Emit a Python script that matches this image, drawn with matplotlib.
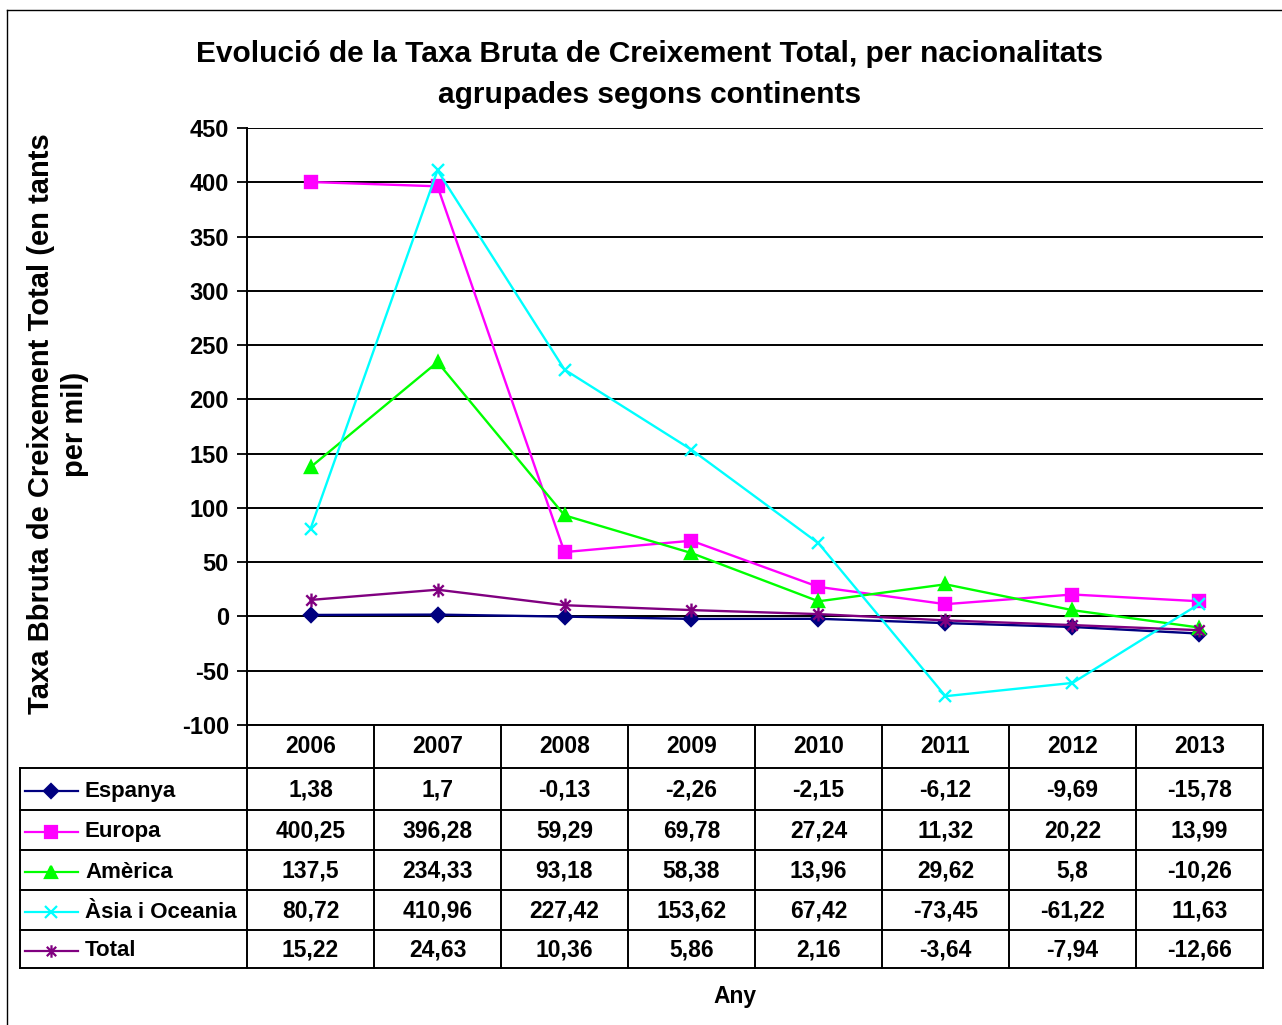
import matplotlib
matplotlib.use('Agg')
import matplotlib.pyplot as plt
from matplotlib.lines import Line2D
from matplotlib.path import Path

plt.rcParams['font.family'] = ['Liberation Sans', 'DejaVu Sans']
plt.rcParams['font.weight'] = 'bold'
plt.rcParams['axes.unicode_minus'] = False

# Dades
anys = ['2006', '2007', '2008', '2009', '2010', '2011', '2012', '2013']
espanya = [1.38, 1.7, -0.13, -2.26, -2.15, -6.12, -9.69, -15.78]
europa = [400.25, 396.28, 59.29, 69.78, 27.24, 11.32, 20.22, 13.99]
america = [137.5, 234.33, 93.18, 58.38, 13.96, 29.62, 5.8, -10.26]
asia = [80.72, 410.96, 227.42, 153.62, 67.42, -73.45, -61.22, 11.63]
total = [15.22, 24.63, 10.36, 5.86, 2.16, -3.64, -7.94, -12.66]

# marcador asterisc tipus Excel (x + barra vertical)
asterisc = Path([(0, -1), (0, 1), (-0.75, -0.75), (0.75, 0.75), (-0.75, 0.75), (0.75, -0.75)],
                [Path.MOVETO, Path.LINETO, Path.MOVETO, Path.LINETO, Path.MOVETO, Path.LINETO])

series = [
    ('Espanya', espanya, '#000080', 'D', 7.5),
    ('Europa', europa, '#FF00FF', 's', 9),
    ('Amèrica', america, '#00FF00', '^', 9),
    ('Àsia i Oceania', asia, '#00FFFF', 'x', 9),
    ('Total', total, '#800080', asterisc, 10),
]

W, H = 1282, 1025
fig = plt.figure(figsize=(W / 100, H / 100), dpi=100)
FS = 16.5


def fx(x):
    return x / W


def fy(y):
    return 1 - y / H


# marc exterior
fig.add_artist(Line2D([fx(7), fx(7)], [fy(10), fy(1030)], color='black', lw=1))
fig.add_artist(Line2D([fx(7), fx(1290)], [fy(10), fy(10)], color='black', lw=1))

# eixos
x0, x1, y0, y1 = 247, 1263, 128, 725
ax = fig.add_axes([fx(x0), fy(y1), fx(x1) - fx(x0), fy(y0) - fy(y1)])
ax.set_xlim(-0.5, len(anys) - 0.5)
ax.set_ylim(-100, 450)
ax.set_yticks(range(-100, 451, 50))
ax.tick_params(axis='y', labelsize=FS + 0.5, length=7, width=1.3, pad=6)
for lab in ax.get_yticklabels():
    lab.set_fontweight('bold')
ax.set_xticks([])
ax.yaxis.grid(True, color='black', lw=1.4)
for s in ['top', 'right', 'bottom']:
    ax.spines[s].set_visible(False)
ax.spines['left'].set_linewidth(1.4)

xs = list(range(len(anys)))
for name, vals, col, mk, ms in series:
    ax.plot(xs, vals, color=col, lw=1.7, marker=mk, markersize=ms,
            markeredgecolor=col, markerfacecolor=col, markeredgewidth=1.7,
            clip_on=False, zorder=3)

# títol
fig.text(fx(650), fy(54), 'Evolució de la Taxa Bruta de Creixement Total, per nacionalitats',
         ha='center', va='center', fontsize=21.5, fontweight='bold')
fig.text(fx(650), fy(95), 'agrupades segons continents',
         ha='center', va='center', fontsize=21.5, fontweight='bold')

fig.text(fx(58), fy(424), 'Taxa Bbruta de Creixement Total (en tants\nper mil)',
         ha='center', va='center', rotation=90, fontsize=21, fontweight='bold',
         linespacing=1.3)

fig.text(fx(735), fy(996), 'Any', ha='center', va='center', fontsize=FS, fontweight='bold')

# taula de dades
cw = (x1 - x0) / len(anys)
rows = [725, 768, 810, 850, 890, 930, 968]
lw_t = 1.4
# línies horitzontals
fig.add_artist(Line2D([fx(x0), fx(x1)], [fy(rows[0]), fy(rows[0])], color='black', lw=lw_t))
for r in rows[1:]:
    fig.add_artist(Line2D([fx(20), fx(x1)], [fy(r), fy(r)], color='black', lw=lw_t))
# línies verticals
fig.add_artist(Line2D([fx(20), fx(20)], [fy(rows[1]), fy(rows[-1])], color='black', lw=lw_t))
for i in range(len(anys) + 1):
    xv = x0 + i * cw
    fig.add_artist(Line2D([fx(xv), fx(xv)], [fy(rows[0]), fy(rows[-1])], color='black', lw=lw_t))

for i, a in enumerate(anys):
    fig.text(fx(x0 + (i + 0.5) * cw), fy((rows[0] + rows[1]) / 2), a,
             ha='center', va='center', fontsize=FS, fontweight='bold')

for j, (name, vals, col, mk, ms) in enumerate(series):
    yc = (rows[j + 1] + rows[j + 2]) / 2 + 2
    fig.add_artist(Line2D([fx(25), fx(78)], [fy(yc), fy(yc)], color=col, lw=1.6))
    fig.add_artist(Line2D([fx(51)], [fy(yc)], marker=mk, markersize=ms * 0.9, color=col,
                          markeredgecolor=col, markerfacecolor=col, markeredgewidth=1.6))
    fig.text(fx(85), fy(yc), name, ha='left', va='center', fontsize=16, fontweight='bold')
    for i, v in enumerate(vals):
        fig.text(fx(x0 + (i + 0.5) * cw), fy(yc - 1), str(v).replace('.', ','),
                 ha='center', va='center', fontsize=FS, fontweight='bold')

fig.savefig('out.png', dpi=100)
